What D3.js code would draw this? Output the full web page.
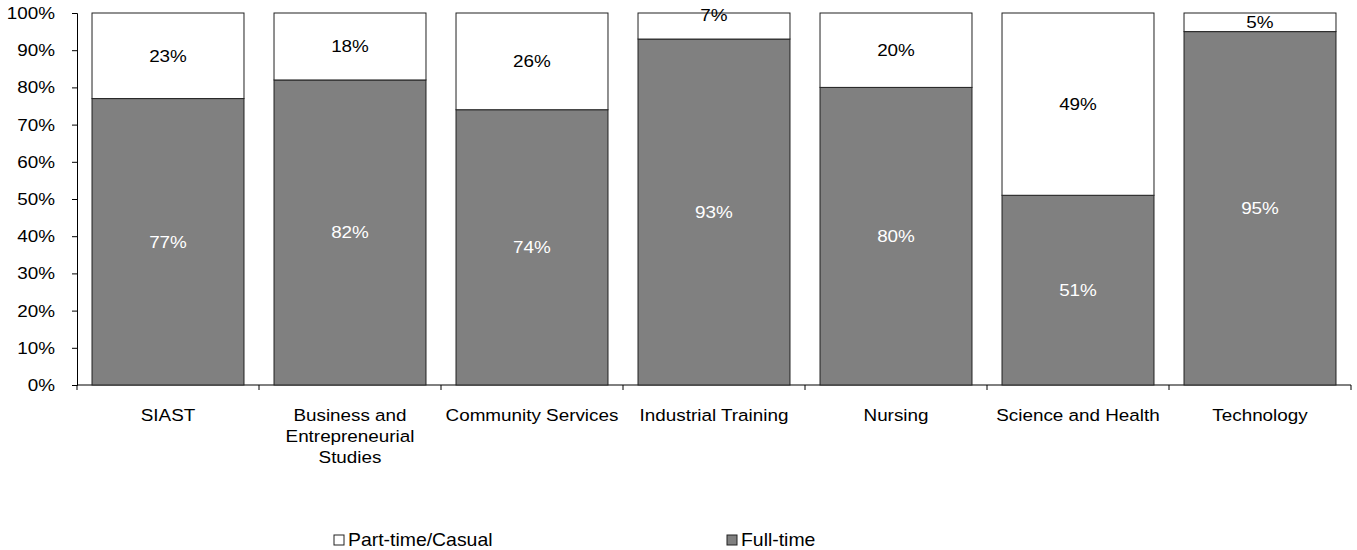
<!DOCTYPE html>
<html>
<head>
<meta charset="utf-8">
<script src="https://cdn.jsdelivr.net/npm/d3@7"></script>
<style>
  body { margin: 0; background: #fff; }
  text { font-family: "Liberation Sans", Arial, sans-serif; }
</style>
</head>
<body>
<svg width="1357" height="550"></svg>
<script>
var width = 1357;
var height = 550;

var categories = ["SIAST", "Business and Entrepreneurial Studies", "Community Services",
  "Industrial Training", "Nursing", "Science and Health", "Technology"];
var fullTime = [77, 82, 74, 93, 80, 51, 95];
var partTime = [23, 18, 26, 7, 20, 49, 5];
var yTicks = [0, 10, 20, 30, 40, 50, 60, 70, 80, 90, 100];

var margin = { left: 77, right: 6, top: 13, bottom: 165 };
var fontSize = 17;
var sx = 1.11; // the reference text is a bit wider than plain Arial

var svg = d3.select("svg");

// widen text horizontally, keeping its anchor point in place
function stretch(sel) {
  sel.each(function () {
    var t = d3.select(this);
    t.attr("transform", "scale(" + sx + ",1)");
    if (t.attr("x") != null) t.attr("x", +t.attr("x") / sx);
    t.selectAll("tspan").each(function () {
      var s = d3.select(this);
      if (s.attr("x") != null) s.attr("x", +s.attr("x") / sx);
    });
  });
}

var xScale = d3.scaleBand()
  .domain(categories)
  .range([margin.left, width - margin.right])
  .paddingInner(0.165)
  .paddingOuter(0.0825);

var yScale = d3.scaleLinear()
  .domain([0, 100])
  .range([height - margin.bottom, margin.top]);

var rows = categories.map(function (c, i) {
  return { cat: c, full: fullTime[i], part: partTime[i] };
});

// y axis
var yAxis = d3.axisLeft(yScale)
  .tickValues(yTicks)
  .tickFormat(function (d) { return d + "%"; })
  .tickSize(5)
  .tickPadding(17);

var gy = svg.append("g")
  .attr("transform", "translate(" + margin.left + ",0)")
  .call(yAxis);
gy.selectAll("path, line").attr("stroke", "#000");
gy.selectAll("text").attr("font-size", fontSize).attr("fill", "#000")
  .attr("font-family", "Liberation Sans, Arial, sans-serif")
  .call(stretch);

// x axis: baseline with ticks on category boundaries
var bounds = d3.range(categories.length + 1).map(function (i) {
  return margin.left + i * (width - margin.right - margin.left) / categories.length;
});

svg.append("line")
  .attr("x1", margin.left).attr("x2", width - margin.right)
  .attr("y1", yScale(0)).attr("y2", yScale(0))
  .attr("stroke", "#000");
svg.selectAll(".xtick")
  .data(bounds)
  .enter().append("line")
  .attr("x1", function (d) { return d; }).attr("x2", function (d) { return d; })
  .attr("y1", yScale(0)).attr("y2", yScale(0) + 5)
  .attr("stroke", "#000");

// stacked bars
var bars = svg.selectAll(".bar")
  .data(rows)
  .enter().append("g");

bars.append("rect")
  .attr("x", function (d) { return xScale(d.cat); })
  .attr("width", xScale.bandwidth())
  .attr("y", function (d) { return yScale(d.full); })
  .attr("height", function (d) { return yScale(0) - yScale(d.full); })
  .attr("fill", "#808080")
  .attr("stroke", "#222")
  .attr("stroke-width", 1);

bars.append("rect")
  .attr("x", function (d) { return xScale(d.cat); })
  .attr("width", xScale.bandwidth())
  .attr("y", function (d) { return yScale(d.full + d.part); })
  .attr("height", function (d) { return yScale(d.full) - yScale(d.full + d.part); })
  .attr("fill", "#fff")
  .attr("stroke", "#222")
  .attr("stroke-width", 1);

// value labels
bars.append("text")
  .attr("x", function (d) { return xScale(d.cat) + xScale.bandwidth() / 2; })
  .attr("y", function (d) { return yScale(d.full / 2); })
  .attr("dy", "0.35em")
  .attr("text-anchor", "middle")
  .attr("font-size", fontSize)
  .attr("fill", "#fff")
  .text(function (d) { return d.full + "%"; })
  .call(stretch);

bars.append("text")
  .attr("x", function (d) { return xScale(d.cat) + xScale.bandwidth() / 2; })
  .attr("y", function (d) {
    var c = yScale(d.full + d.part / 2);
    // Excel nudged this small segment's label up toward the top edge
    return (d.part > 5 && d.part < 10) ? yScale(100) + 2 : c;
  })
  .attr("dy", "0.35em")
  .attr("text-anchor", "middle")
  .attr("font-size", fontSize)
  .attr("fill", "#000")
  .text(function (d) { return d.part + "%"; })
  .call(stretch);

// category labels, wrapped
var lineH = 21;
svg.selectAll(".cat")
  .data(categories)
  .enter().append("text")
  .attr("text-anchor", "middle")
  .attr("font-size", fontSize)
  .attr("fill", "#000")
  .each(function (c) {
    var t = d3.select(this);
    var cx = xScale(c) + xScale.bandwidth() / 2;
    var words = c.split(" ");
    var lines = [];
    var cur = "";
    words.forEach(function (w) {
      var test = cur ? cur + " " + w : w;
      if (test.length > 19 && cur) { lines.push(cur); cur = w; } else { cur = test; }
    });
    lines.push(cur);
    lines.forEach(function (l, i) {
      t.append("tspan").attr("x", cx).attr("y", 421 + i * lineH).text(l);
    });
  })
  .call(stretch);

// legend
var legend = [
  { name: "Part-time/Casual", fill: "#fff", x: 334 },
  { name: "Full-time", fill: "#808080", x: 727 }
];
var lg = svg.selectAll(".legend")
  .data(legend)
  .enter().append("g")
  .attr("transform", function (d) { return "translate(" + d.x + ",535)"; });
lg.append("rect")
  .attr("width", 10).attr("height", 10)
  .attr("fill", function (d) { return d.fill; })
  .attr("stroke", "#222");
lg.append("text")
  .attr("x", 14).attr("y", 10.5)
  .attr("font-size", fontSize + 0.5)
  .attr("fill", "#000")
  .text(function (d) { return d.name; })
  .call(stretch);
</script>
</body>
</html>
